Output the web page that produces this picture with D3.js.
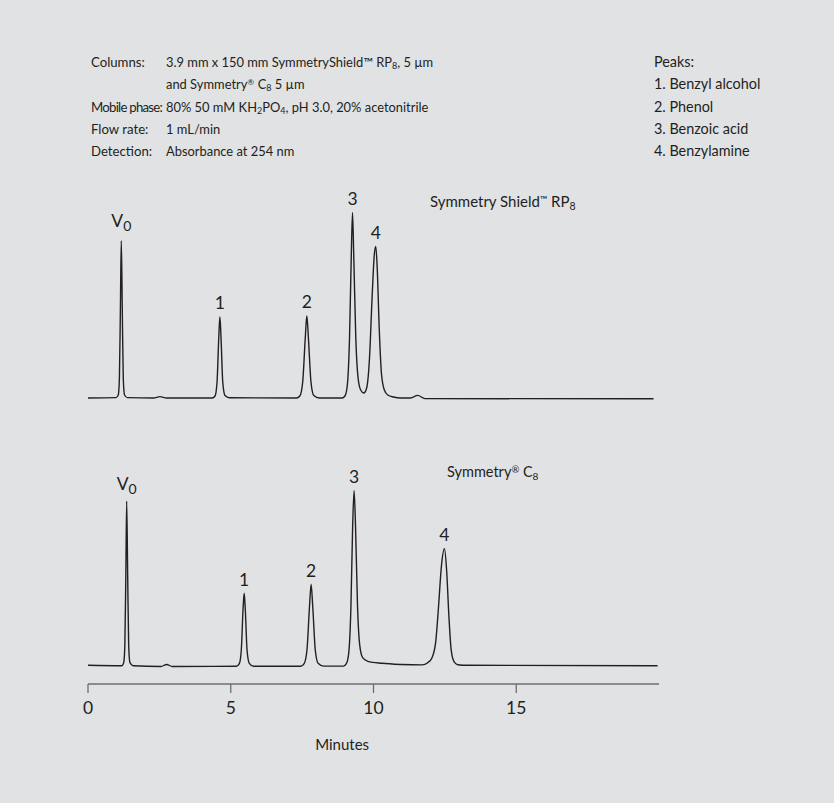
<!DOCTYPE html>
<html>
<head>
<meta charset="utf-8">
<script src="https://cdn.jsdelivr.net/npm/d3@7"></script>
<style>
  body { margin: 0; background: #e1e2e4; }
  svg { display: block; font-family: Lato, "Open Sans", sans-serif; }
  text { fill: #231f20; }
</style>
</head>
<body>
<div class="canvas"></div>
<script>
const dims = { width: 834, height: 803 };

// conditions table (label, value lines)
const condLabels = ['Columns:', '', 'Mobile phase:', 'Flow rate:', 'Detection:'];
const peakNames = ['Peaks:', '1. Benzyl alcohol', '2. Phenol', '3. Benzoic acid', '4. Benzylamine'];

// axis ticks (minutes)
const xTicks = [0, 5, 10, 15];

// peak labels + apex (minutes, response)
const peakLabels = ['V0', '1', '2', '3', '4'];
const shieldApex = [[1.166, 78.6], [4.62, 40.6], [7.665, 41.1], [9.265, 92.8], [10.08, 75.8]];
const c8Apex = [[1.355, 82.3], [5.47, 36.2], [7.815, 40.7], [9.32, 87.5], [12.485, 58.5]];

// traced chromatograms [minutes, response]
const shieldTrace = [
  [0, 0], [0.98, 0.2], [1.06, 1.5], [1.10, 10], [1.135, 45], [1.166, 78.6], [1.20, 45], [1.235, 10], [1.28, 1.5], [1.38, 0.2],
  [2.3, 0], [2.52, 0.7], [2.75, 0],
  [4.35, 0], [4.45, 1], [4.52, 8], [4.58, 30], [4.62, 40.6], [4.66, 30], [4.72, 8], [4.80, 1.2], [4.95, 0.1],
  [7.30, 0], [7.42, 1], [7.52, 8], [7.61, 30], [7.665, 41.1], [7.72, 30], [7.81, 8], [7.91, 1.2], [8.1, 0],
  [8.9, 0], [9.0, 1], [9.08, 6], [9.16, 30], [9.22, 70], [9.265, 92.8], [9.31, 70], [9.38, 30], [9.46, 10], [9.55, 4],
  [9.66, 2.5], [9.76, 5], [9.86, 20], [9.95, 50], [10.03, 72], [10.08, 75.8], [10.13, 65], [10.20, 35], [10.28, 12],
  [10.38, 4], [10.5, 1.5], [10.7, 0.5], [10.95, 0],
  [11.3, 0], [11.55, 1.3], [11.8, -0.3], [19.81, -0.4]
];
const c8Trace = [
  [0, 0.2], [1.18, 0], [1.25, 1.5], [1.29, 10], [1.325, 45], [1.355, 82.3], [1.39, 45], [1.425, 10], [1.47, 1.5], [1.58, 0],
  [2.55, -0.4], [2.755, 0.6], [2.95, -0.4],
  [5.2, -0.3], [5.3, 1], [5.37, 8], [5.43, 28], [5.47, 36.2], [5.51, 28], [5.57, 8], [5.65, 1.2], [5.8, -0.3],
  [7.45, -0.3], [7.57, 1], [7.67, 8], [7.76, 30], [7.815, 40.7], [7.87, 30], [7.96, 8], [8.06, 1.2], [8.25, -0.2],
  [8.95, -0.2], [9.05, 1], [9.13, 6], [9.21, 30], [9.27, 70], [9.32, 87.5], [9.37, 70], [9.44, 30], [9.52, 10], [9.62, 4],
  [9.8, 2.2], [10.3, 1.2], [11.0, 0.6], [11.7, 0.4],
  [11.9, 1.5], [12.05, 4], [12.18, 12], [12.28, 30], [12.38, 50], [12.485, 58.5], [12.56, 48], [12.64, 25], [12.72, 8],
  [12.82, 2], [12.95, 0.5], [13.3, 0.2], [19.95, 0]
];

const svg = d3.select('.canvas').append('svg')
  .attr('width', dims.width)
  .attr('height', dims.height);

svg.append('rect')
  .attr('width', dims.width).attr('height', dims.height)
  .attr('fill', '#e1e2e4');

// header
const head = svg.append('g').attr('font-size', 12.9);
const lineY = i => 67 + i * 22.3;

head.selectAll('text.lbl')
  .data(condLabels)
  .enter().append('text')
  .attr('class', 'lbl')
  .attr('x', 91).attr('y', (d, i) => lineY(i))
  .attr('font-size', 13.2)
  .text(d => d)
  .each(function() {
    // keep labels clear of the value column
    if (this.getComputedTextLength() > 70) {
      d3.select(this).attr('letter-spacing', -0.75);
    }
  });

const sub = (t, s) => { t.append('tspan').attr('baseline-shift', '-25%').attr('font-size', '70%').text(s); };
const sup = (t, s) => { t.append('tspan').attr('baseline-shift', '45%').attr('font-size', '65%').text(s); };

let t = head.append('text').attr('x', 166).attr('y', lineY(0));
t.append('tspan').text('3.9 mm x 150 mm SymmetryShield™ RP');
sub(t, '8');
t.append('tspan').text(', 5 µm');

t = head.append('text').attr('x', 166).attr('y', lineY(1));
t.append('tspan').text('and Symmetry');
sup(t, '®');
t.append('tspan').text(' C');
sub(t, '8');
t.append('tspan').text(' 5 µm');

t = head.append('text').attr('x', 166).attr('y', lineY(2));
t.append('tspan').text('80% 50 mM KH');
sub(t, '2');
t.append('tspan').text('PO');
sub(t, '4');
t.append('tspan').text(', pH 3.0, 20% acetonitrile');

head.append('text').attr('x', 166).attr('y', lineY(3)).text('1 mL/min');
head.append('text').attr('x', 166).attr('y', lineY(4)).text('Absorbance at 254 nm');

head.selectAll('text.pk')
  .data(peakNames)
  .enter().append('text')
  .attr('class', 'pk')
  .attr('x', 654).attr('y', (d, i) => lineY(i))
  .attr('font-size', 14.4)
  .text(d => d);

// scales
const x = d3.scaleLinear().domain([0, 20]).range([88, 659]);
const yTop = d3.scaleLinear().domain([0, 100]).range([398, 198]);
const yBot = d3.scaleLinear().domain([0, 100]).range([665.7, 465.7]);

const drawTrace = (data, y) => {
  const line = d3.line()
    .x(d => x(d[0]))
    .y(d => y(d[1]))
    .curve(d3.curveMonotoneX);
  svg.append('path')
    .datum(data)
    .attr('d', line)
    .attr('fill', 'none')
    .attr('stroke', '#231f20')
    .attr('stroke-width', 1.4)
    .attr('stroke-linejoin', 'round');
};

const drawLabels = (apex, y, v0Gap) => {
  const g = svg.append('g').attr('font-size', 17.5).attr('text-anchor', 'middle');
  g.selectAll('text')
    .data(apex)
    .enter().append('text')
    .attr('x', d => x(d[0]))
    .attr('y', (d, i) => y(d[1]) - (i === 0 ? v0Gap : 7.5))
    .each(function(d, i) {
      const el = d3.select(this);
      if (peakLabels[i] === 'V0') {
        el.append('tspan').text('V');
        el.append('tspan').attr('baseline-shift', '-30%').attr('font-size', '80%').text('0');
      } else {
        el.text(peakLabels[i]);
      }
    });
};

drawTrace(shieldTrace, yTop);
drawTrace(c8Trace, yBot);
drawLabels(shieldApex, yTop, 13.5);
drawLabels(c8Apex, yBot, 11);

// panel titles
t = svg.append('text').attr('x', 430).attr('y', 207).attr('font-size', 15);
t.append('tspan').text('Symmetry Shield');
sup(t, '™');
t.append('tspan').text(' RP');
sub(t, '8');

t = svg.append('text').attr('x', 447).attr('y', 477).attr('font-size', 14.5);
t.append('tspan').text('Symmetry');
sup(t, '®');
t.append('tspan').text(' C');
sub(t, '8');

// time axis
const axisY = 684;
svg.append('line')
  .attr('x1', x(0)).attr('x2', x(20))
  .attr('y1', axisY).attr('y2', axisY)
  .attr('stroke', '#6d6e71').attr('stroke-width', 1.3);

const ticks = svg.append('g');
ticks.selectAll('line')
  .data(xTicks)
  .enter().append('line')
  .attr('x1', d => x(d)).attr('x2', d => x(d))
  .attr('y1', axisY).attr('y2', axisY + 9)
  .attr('stroke', '#6d6e71').attr('stroke-width', 1.3);
ticks.selectAll('text')
  .data(xTicks)
  .enter().append('text')
  .attr('x', d => x(d)).attr('y', axisY + 30)
  .attr('text-anchor', 'middle')
  .attr('font-size', 17.5)
  .text(d => d);

svg.append('text')
  .attr('x', x(8.9)).attr('y', 750)
  .attr('text-anchor', 'middle')
  .attr('font-size', 15)
  .text('Minutes');
</script>
</body>
</html>
